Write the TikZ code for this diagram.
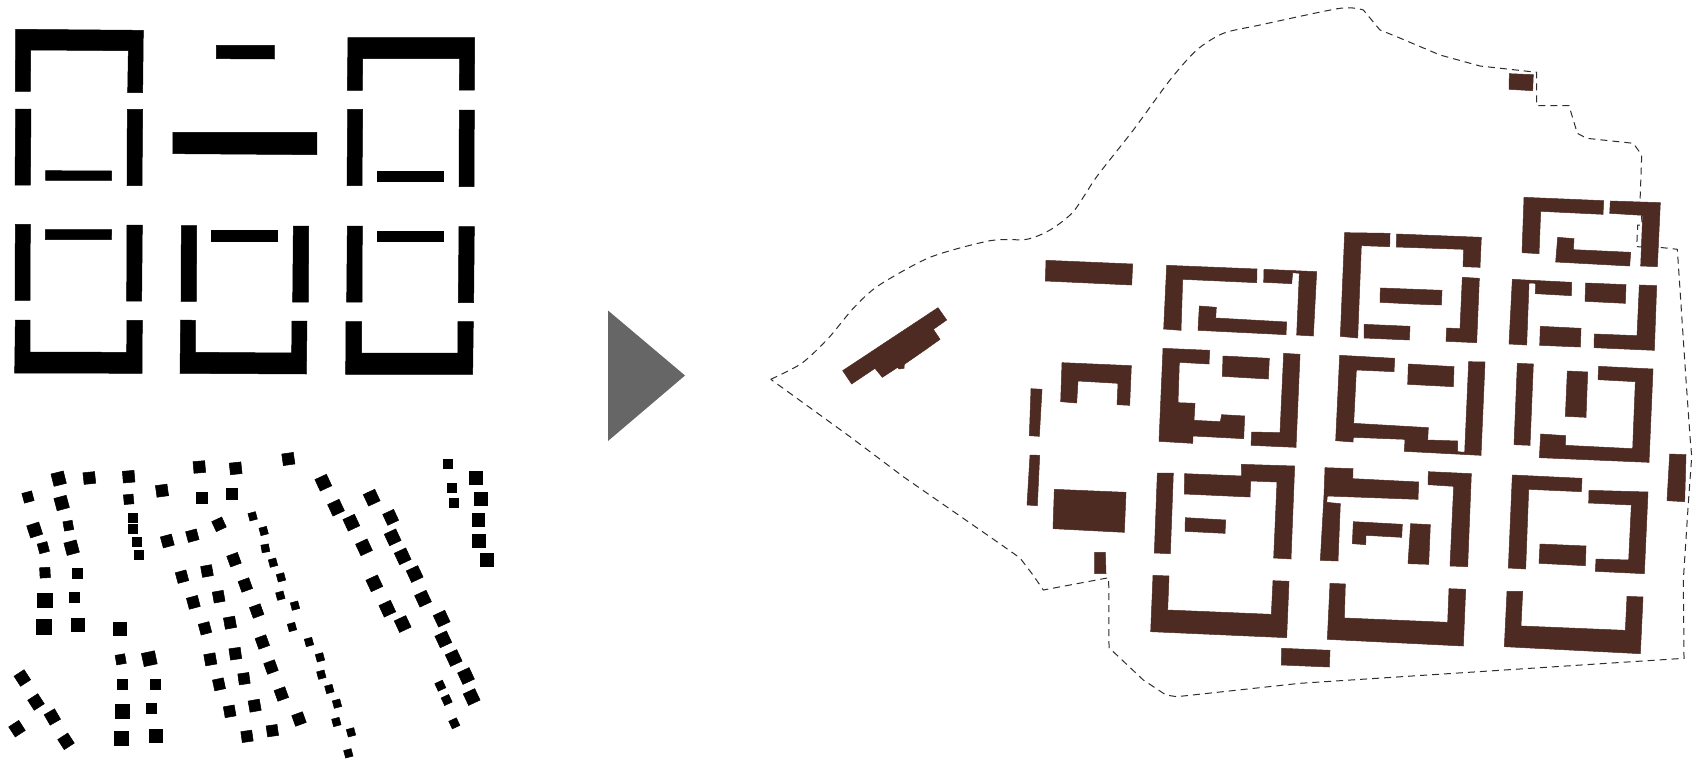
\documentclass[tikz,border=0pt]{standalone}
\definecolor{brickbrown}{HTML}{4E2B22}
\definecolor{arrowgrey}{HTML}{666666}
\definecolor{lineink}{HTML}{2E2E2E}
\tikzset{
  blk/.style={fill=black,draw=black,line width=0.5pt},
  bld/.style={fill=brickbrown,draw=brickbrown,line width=0.5pt},
  site/.style={draw=lineink,line width=1pt,dash pattern=on 7pt off 5pt},
  zoomat/.style args={#1/#2}{shift={(#1,#2)},scale=0.33333}
}
\newcommand{\pgn}[2]{\filldraw[#1] plot coordinates {#2} -- cycle;}
\newcommand{\squares}[1]{\foreach \px/\py/\ps/\pr in {#1}{\filldraw[blk,shift={(\px,\py)},rotate=\pr] ({-\ps/2},{-\ps/2}) rectangle ({\ps/2},{\ps/2});}}
\begin{document}
\begin{tikzpicture}[x=1pt,y=-1pt]
\useasboundingbox (0,0) rectangle (1696,761);
\fill[white] (0,0) rectangle (1696,761);

% upper left figure-ground
\begin{scope}[zoomat=0/10]
\pgn{blk}{(47,58)(430,61)(428,248)(383,248)(385,122)(92,120)(91,244)(46,244)}
\pgn{blk}{(47,297)(93,297)(91,525)(45,525)}
\pgn{blk}{(382,298)(428,298)(426,527)(381,527)}
\pgn{blk}{(137,482)(335,483)(335,511)(137,511)}
\pgn{blk}{(649,106)(823,106)(823,147)(649,146)}
\pgn{blk}{(519,367)(951,367)(951,434)(519,431)}
\pgn{blk}{(1044,83)(1424,83)(1423,240)(1378,240)(1379,146)(1088,146)(1087,241)(1042,241)}
\pgn{blk}{(1043,298)(1088,298)(1086,527)(1041,527)}
\pgn{blk}{(1378,300)(1423,300)(1422,530)(1377,530)}
\pgn{blk}{(1133,484)(1331,484)(1331,514)(1133,514)}
\pgn{blk}{(46,643)(91,643)(90,871)(45,871)}
\pgn{blk}{(381,645)(427,645)(425,873)(380,873)}
\pgn{blk}{(136,659)(335,659)(334,689)(136,689)}
\pgn{blk}{(544,647)(590,647)(589,874)(543,874)}
\pgn{blk}{(880,648)(926,648)(925,876)(878,876)}
\pgn{blk}{(635,662)(833,662)(833,693)(635,693)}
\pgn{blk}{(1042,648)(1087,648)(1086,876)(1040,876)}
\pgn{blk}{(1377,650)(1423,650)(1421,878)(1375,878)}
\pgn{blk}{(1133,664)(1331,664)(1331,694)(1133,694)}
\pgn{blk}{(46,930)(90,930)(90,1026)(380,1027)(381,931)(427,931)(426,1090)(44,1089)}
\pgn{blk}{(542,930)(586,931)(586,1027)(875,1029)(876,933)(921,933)(919,1092)(540,1090)}
\pgn{blk}{(1038,935)(1085,935)(1085,1029)(1374,1029)(1374,935)(1420,935)(1418,1093)(1037,1093)}
\end{scope}

% lower left figure-ground
\begin{scope}[zoomat=0/440]
\squares{84/171/30/15,176/116/38/14,268/114/35/6,386/110/35/5,486/152/35/8,598/81/35/5,707/85/35/6,
185/189/38/15,386/178/29/5,606/174/34/0,696/161/34/0,104/270/38/18,205/257/28/10,398/233/27/0,398/266/28/0,
410/304/27/0,415/343/27/0,130/323/30/15,215/323/38/15,502/303/34/15,577/287/33/15,657/253/33/25,
135/398/31/3,232/400/30/0,135/481/44/0,222/471/30/0,131/561/44/0,234/554/40/0,359/566/40/0,
362/658/29/10,448/656/40/12,367/732/31/0,465/733/31/0,366/813/43/0,453/805/30/0,363/895/43/0,466/887/39/0,
67/714/36/33,108/786/36/33,157/831/36/30,51/866/36/33,198/904/36/33}
\end{scope}
\begin{scope}[zoomat=120/440]
\squares{186/410/33/15,261/393/33/10,342/359/34/20,220/487/34/15,296/470/33/10,376/435/34/20,
255/565/33/15,330/548/34/10,410/513/34/20,271/658/34/10,346/641/34/8,427/606/34/20,
297/733/33/12,372/716/33/8,453/681/34/20,329/814/33/10,404/797/34/10,484/762/34/20,
381/889/33/8,457/872/33/8,537/837/34/20,
398/229/23/15,431/273/23/15,436/325/23/10,459/368/23/15,483/412/23/15,481/467/23/15,525/497/23/15,
516/561/23/15,567/606/23/15,600/652/23/15,604/704/23/15,628/747/23/15,651/791/23/15,649/846/23/15,
505/57/35/8}
\end{scope}
\begin{scope}[zoomat=240/440]
\squares{333/877/23/15,325/940/23/15,
250/128/38/25,288/203/38/25,334/248/38/25,395/173/38/25,452/232/36/25,458/292/38/25,372/322/38/25,
488/349/38/25,524/402/38/25,403/430/38/25,549/476/38/25,442/506/38/25,488/552/38/25,605/536/38/25,
610/598/38/25,641/654/38/25,678/708/38/25,695/771/38/25,601/737/25/25,620/780/25/25,643/850/25/25,
622/70/27/0,636/142/27/0,642/188/27/0,706/113/39/0,721/177/39/0,715/240/38/0,716/302/39/0,741/359/40/0}
\end{scope}

% arrow
\fill[arrowgrey] (608,310.5) -- (685,375.5) -- (608,441) -- cycle;

% site boundary
\draw[site] plot[smooth,tension=0.45] coordinates {(770.7,379.3)(801.7,363.3)(828.3,338.3)(853.3,308.3)(878.3,285.7)(930,257.3)(990,240.7)(1026.7,239.3)(1050,230)(1073.3,211.7)(1096.7,176.7)(1133.3,130)(1170,80)(1196.7,50)(1223.3,33.3)(1260,25)(1340,8.3)(1363.3,10)}
  -- (1380,30) -- (1395,36) -- (1440,55) -- (1480,66) -- (1536.7,72.3) -- (1536.7,105.7) -- (1569,105.7) -- (1577.3,133.3) -- (1586.7,138.3) -- (1633.3,143.3) -- (1641.7,155) -- (1640,201.7) -- (1642.3,225) -- (1637.7,225) -- (1636.7,246.7) -- (1659.3,247.3) -- (1677.3,249.3) -- (1686,380) -- (1690,436.7) -- (1691.7,456.7) -- (1688.3,503.3) -- (1683.3,580) -- (1684,658.3) -- (1300,683.3) -- (1176.7,696.7) -- (1166,695) -- (1143.3,680) -- (1109,647.7) -- (1108.7,577.7) -- (1043.3,590) -- (1033,575) -- (1020,558) -- (1001.7,545) -- (903.3,476.7) -- (850,436.7) -- cycle;

% west buildings
\begin{scope}[zoomat=760/0]
\pgn{bld}{(534,923)(560,960)(520,988)(540,1018)(495,1050)(433,1093)(432,1105)(417,1107)(413,1102)(367,1132)(345,1105)(275,1152)(248,1112)}
\end{scope}
% blocks
\begin{scope}[zoomat=1040/220]
\pgn{bld}{(18,121)(278,132)(275,195)(16,183)}
\pgn{bld}{(380,136)(651,147)(650,188)(428,178)(423,331)(371,327)}
\pgn{bld}{(672,148)(830,155)(820,348)(770,345)(778,160)(758,158)(755,191)(671,187)}
\pgn{bld}{(478,258)(529,262)(527,294)(740,306)(738,344)(474,331)}
\pgn{bld}{(66,428)(274,437)(269,556)(231,554)(234,490)(114,483)(110,549)(62,545)}
\pgn{bld}{(369,385)(509,391)(507,432)(418,427)(414,548)(465,550)(462,601)(541,605)(545,584)(614,588)(611,656)(459,648)(458,670)(357,664)}
\pgn{bld}{(549,408)(688,415)(685,477)(547,469)}
\pgn{bld}{(731,400)(780,403)(768,682)(633,676)(635,636)(720,638)}
\end{scope}
\begin{scope}[zoomat=1240/0]
\pgn{bld}{(808,221)(880,224)(878,272)(807,268)}
\pgn{bld}{(852,592)(1091,602)(1089,643)(902,634)(897,761)(846,758)}
\pgn{bld}{(1111,603)(1261,608)(1252,800)(1202,798)(1208,646)(1109,640)}
\pgn{bld}{(953,712)(1002,716)(1000,749)(1172,757)(1169,798)(947,786)}
\pgn{bld}{(314,698)(450,700)(449,740)(364,737)(353,1014)(301,1009)}
\pgn{bld}{(470,702)(724,712)(720,802)(669,800)(671,748)(469,741)}
\pgn{bld}{(421,864)(606,871)(604,915)(520,912)(420,907)}
\pgn{bld}{(372,973)(510,979)(508,1020)(372,1014)}
\pgn{bld}{(667,832)(718,835)(710,1028)(618,1024)(620,984)(660,986)}
\pgn{bld}{(817,838)(995,847)(994,887)(886,881)(887,850)(867,849)(860,1035)(807,1032)}
\pgn{bld}{(1037,849)(1158,854)(1156,910)(1035,904)}
\pgn{bld}{(1198,855)(1250,857)(1243,1051)(1062,1043)(1063,1002)(1191,1007)}
\pgn{bld}{(901,979)(1023,985)(1021,1041)(899,1036)}
\end{scope}
\begin{scope}[zoomat=1300/260]
\pgn{bld}{(119,286)(284,295)(282,335)(169,330)(161,490)(385,503)(383,540)(473,543)(473,575)(494,577)(506,305)(555,306)(543,586)(313,574)(315,538)(160,532)(159,546)(107,542)}
\pgn{bld}{(325,312)(462,320)(460,380)(323,373)}
\pgn{bld}{(652,310)(700,312)(690,556)(642,554)}
\pgn{bld}{(802,333)(863,336)(858,472)(796,469)}
\pgn{bld}{(896,319)(1059,327)(1047,607)(718,593)(722,522)(797,527)(796,556)(998,566)(1006,365)(894,359)}
\end{scope}
\begin{scope}[zoomat=1300/380]
\pgn{bld}{(1109,222)(1158,224)(1154,365)(1101,362)}
\pgn{bld}{(75,263)(159,266)(158,296)(356,306)(354,358)(82,348)(80,367)(121,371)(114,543)(61,541)(72,345)}
\pgn{bld}{(385,275)(514,281)(503,560)(450,558)(461,319)(384,314)}
\pgn{bld}{(160,425)(307,433)(305,472)(198,466)(197,494)(157,491)}
\pgn{bld}{(332,431)(391,434)(386,553)(324,551)}
\pgn{bld}{(90,610)(136,612)(133,714)(443,727)(447,626)(497,628)(490,798)(82,778)}
\pgn{bld}{(637,285)(846,295)(844,335)(686,328)(677,567)(625,564)}
\pgn{bld}{(867,331)(1044,336)(1033,581)(886,574)(888,537)(986,540)(994,375)(866,369)}
\pgn{bld}{(720,492)(858,498)(856,557)(717,550)}
\pgn{bld}{(621,634)(668,634)(663,738)(976,751)(981,649)(1029,651)(1021,821)(613,800)}
\end{scope}
\begin{scope}[zoomat=1000/380]
\pgn{bld}{(93,26)(126,28)(118,169)(88,167)}
\pgn{bld}{(90,225)(119,226)(112,377)(81,375)}
\pgn{bld}{(163,328)(378,337)(373,457)(159,446)}
\pgn{bld}{(284,517)(316,517)(318,581)(284,581)}
\pgn{bld}{(472,279)(520,279)(511,521)(463,519)}
\pgn{bld}{(554,281)(725,288)(724,253)(884,258)(873,537)(821,534)(831,306)(752,303)(750,351)(553,342)}
\pgn{bld}{(556,413)(677,420)(675,460)(555,454)}
\pgn{bld}{(459,586)(507,588)(503,690)(814,703)(819,602)(867,604)(860,773)(452,755)}
\end{scope}
\pgn{bld}{(1281.7,648.3)(1330,650.3)(1329.3,667)(1281.3,665)}
\end{tikzpicture}
\end{document}
